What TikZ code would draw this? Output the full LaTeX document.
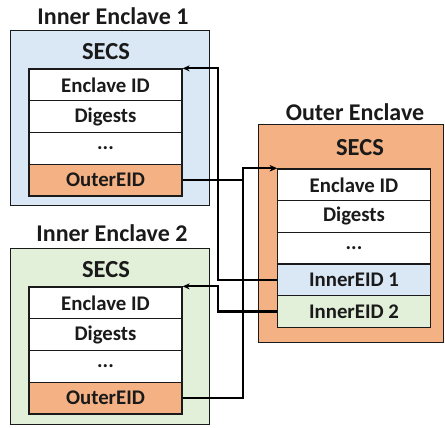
\documentclass[tikz,border=0pt]{standalone}
\usepackage{fontspec}
\setmainfont{Carlito}
\usetikzlibrary{arrows.meta}
\definecolor{paleblue}{HTML}{DAE7F4}
\definecolor{palegreen}{HTML}{E2EFD9}
\definecolor{peach}{HTML}{F4B183}
\definecolor{ink}{HTML}{1A1A1A}
\tikzset{
  encl/.style={draw=ink, line width=1.3pt, anchor=north west, inner sep=0pt},
  title/.style={font=\bfseries\fontsize{24}{27}\selectfont, text=ink, inner sep=0pt},
  secs/.style={font=\bfseries\fontsize{24.5}{27}\selectfont, text=ink, inner sep=0pt},
  row/.style={draw=ink, line width=1.3pt, fill=white, minimum width=153pt,
    minimum height=31.75pt, inner sep=0pt, text=ink,
    font=\bfseries\fontsize{20.8}{23}\selectfont},
  conn/.style={draw=black, line width=2.2pt, -{Stealth[length=7pt,width=6pt]}}
}
\begin{document}
\begin{tikzpicture}[x=1pt,y=-1pt]
\useasboundingbox (0,0) rectangle (445,428);

% Inner Enclave 1
\node[title] (t1) at (113,16) {Inner Enclave 1};
\node[encl, fill=paleblue, minimum width=199pt, minimum height=175pt] (b1) at (10,30) {};
\node[secs] (s1) at (106,52) {SECS};
\node[row] (ia1) at (105.5,84.9) {Enclave ID};
\node[row] (ib1) at (105.5,116.6) {Digests};
\node[row] (ic1) at (105.5,148.4) {...};
\node[row, fill=peach] (id1) at (105.5,180.1) {OuterEID};

% Inner Enclave 2
\node[title] (t2) at (112,233) {Inner Enclave 2};
\node[encl, fill=palegreen, minimum width=199pt, minimum height=176pt] (b2) at (10,248) {};
\node[secs] (s2) at (106,270) {SECS};
\node[row] (ia2) at (105.5,302.9) {Enclave ID};
\node[row] (ib2) at (105.5,334.6) {Digests};
\node[row] (ic2) at (105.5,366.4) {...};
\node[row, fill=peach] (id2) at (105.5,398.1) {OuterEID};

% Outer Enclave
\node[title] (t3) at (355,112) {Outer Enclave};
\node[encl, fill=peach, minimum width=185pt, minimum height=218pt] (b3) at (258,124) {};
\node[secs] (s3) at (360,148) {SECS};
\node[row] (oa) at (354,184.8) {Enclave ID};
\node[row] (ob) at (354,216.4) {Digests};
\node[row] (oc) at (354,248.1) {...};
\node[row, fill=paleblue] (od) at (354,279.8) {InnerEID 1};
\node[row, fill=palegreen] (oe) at (354,311.4) {InnerEID 2};

% Links between the tables
\draw[conn] (id1.east) -- ++(60,0) |- (oa.north west);
\draw[conn] (id2.east) -- ++(60,0) |- (oa.north west);
\draw[conn] (od.west) -- ++(-59,0) |- (ia1.north east);
\draw[conn] (oe.west) -- ++(-59,0) |- (ia2.north east);
\end{tikzpicture}
\end{document}
